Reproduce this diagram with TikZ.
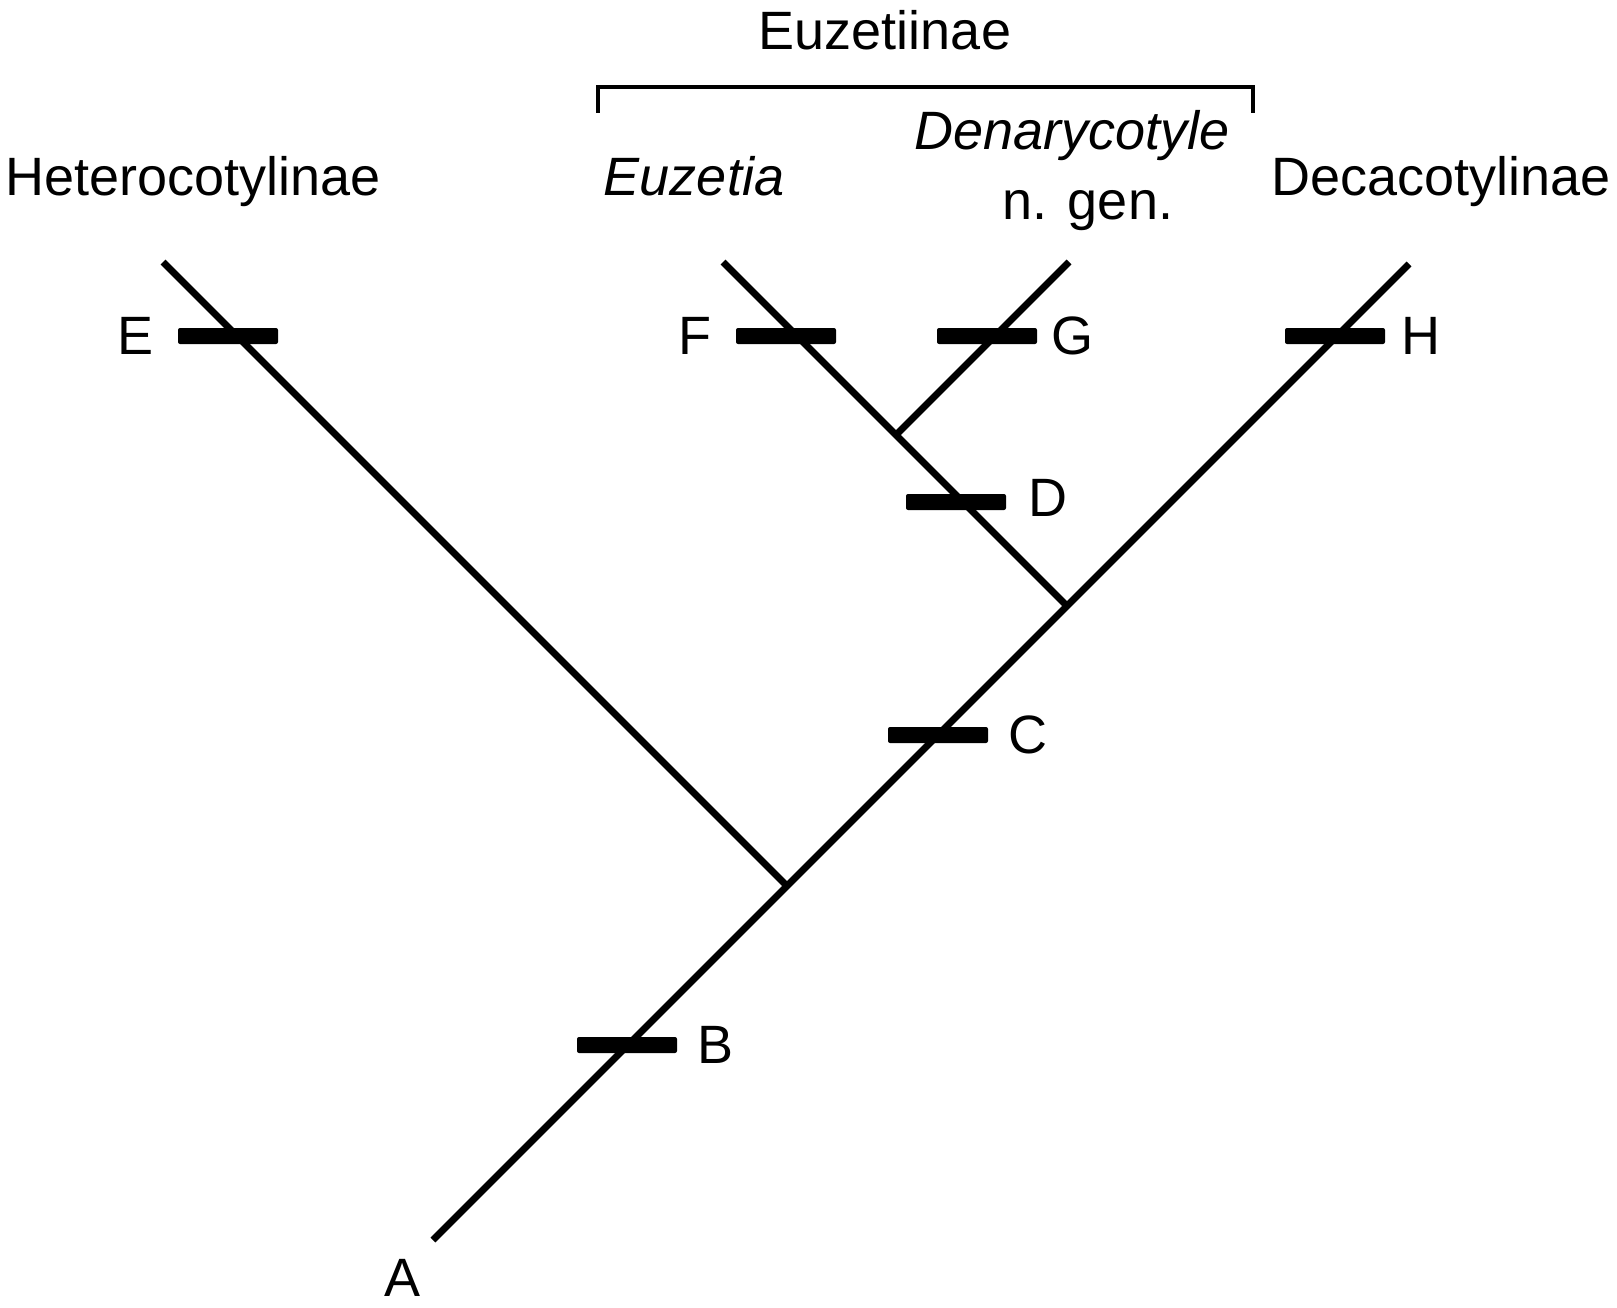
\documentclass[tikz,border=0pt]{standalone}
\usepackage{fontspec}
\setmainfont{Liberation Sans}
\usetikzlibrary{positioning,calc}

\begin{document}
\begin{tikzpicture}[x=1pt, y=-1pt,
  branch/.style={line width=7pt},
  synbar/.style={fill=black, minimum width=100pt, minimum height=16pt, inner sep=0pt, rounded corners=2pt},
  lab/.style={font=\fontsize{54}{60}\selectfont, inner sep=0pt},
  clade/.style={lab, anchor=base}]

 \useasboundingbox (0,0) rectangle (1617,1308);

 %tree points
 \coordinate (A) at (433,1240);
 \coordinate (n1) at (787,886);
 \coordinate (n2) at (1067,606);
 \coordinate (n3) at (896,435);
 \coordinate (tE) at (163,262);
 \coordinate (tF) at (723,262);
 \coordinate (tG) at (1069,262);
 \coordinate (tH) at (1409,264);

 %branches
 \draw[branch] (A) -- (n1) -- (n2) -- (tH);
 \draw[branch] (n1) -- (tE);
 \draw[branch] (n2) -- (n3) -- (tF);
 \draw[branch] (n3) -- (tG);

 %character bars
 \foreach \x/\y/\name in {627/1045/B, 938/735/C, 956/502/D, 228/336/E, 786/336/F, 987/336/G, 1335/336/H} {
   \node[synbar] (bar\name) at (\x,\y) {};
 }

 %bar letters
 \node[lab, right=20pt of barB] (lB) {B};
 \node[lab, right=20pt of barC] (lC) {C};
 \node[lab, right=22pt of barD, yshift=4pt] (lD) {D};
 \node[lab, right=14pt of barG] (lG) {G};
 \node[lab, right=16pt of barH] (lH) {H};
 \node[lab, left=24pt of barE] (lE) {E};
 \node[lab, left=24pt of barF] (lF) {F};
 \node[lab] (lA) at (403,1278) {A};

 %taxa
 \node[clade] (het) at (193,196) {Heterocotylinae};
 \node[clade] (euz) at (694,196) {\itshape Euzetia};
 \node[clade] (den) at (1072,150) {\itshape Denarycotyle};
 \node[clade] (ngen) at (1088,220) {n. gen.};
 \node[clade] (dec) at (1441,196) {Decacotylinae};
 \node[clade] (sub) at (885,50) {Euzetiinae};

 %bracket
 \coordinate (bl) at (598,113);
 \coordinate (br) at (1253,113);
 \draw[line width=4pt] (bl) |- (1253,87) -- (br);

\end{tikzpicture}
\end{document}
